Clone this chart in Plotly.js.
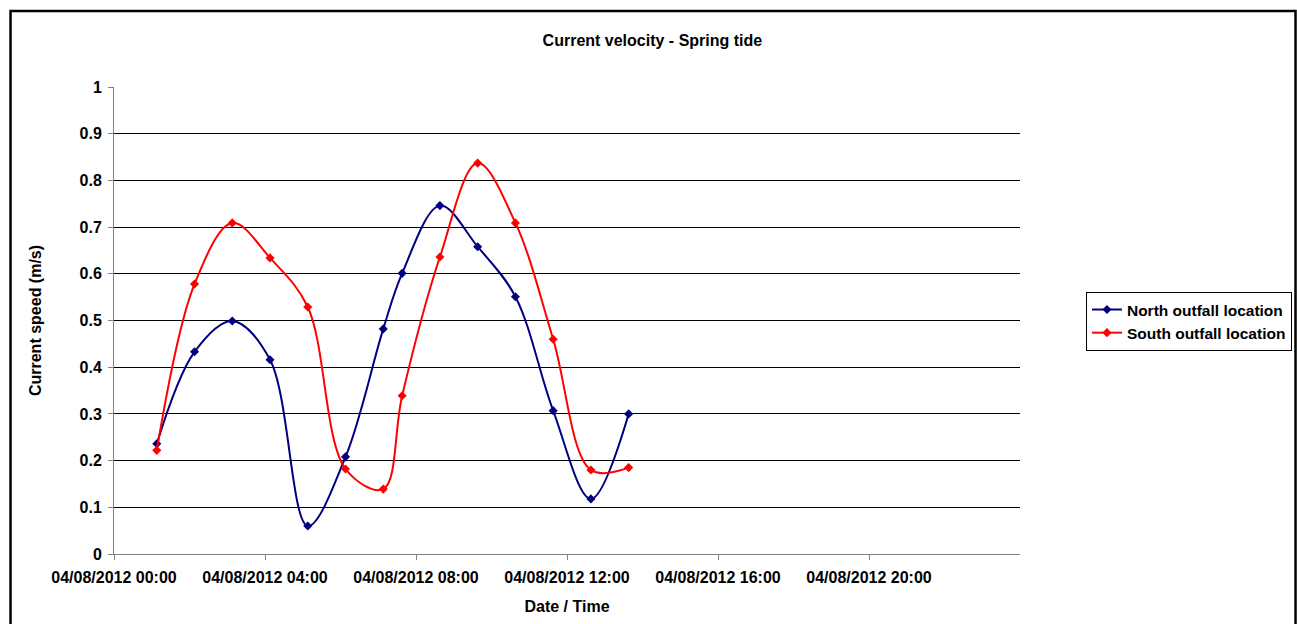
<!DOCTYPE html>
<html>
<head>
<meta charset="utf-8">
<script src="https://cdn.plot.ly/plotly-3.0.1.min.js"></script>
<style>
html,body{margin:0;padding:0;background:#fff;}
#chart{width:1297px;height:624px;}
</style>
</head>
<body>
<div id="chart"></div>
<script>
var times = [
  '2012-08-04 01:08','2012-08-04 02:08','2012-08-04 03:08','2012-08-04 04:08',
  '2012-08-04 05:08','2012-08-04 06:08','2012-08-04 07:08','2012-08-04 07:38',
  '2012-08-04 08:38','2012-08-04 09:38','2012-08-04 10:38','2012-08-04 11:38',
  '2012-08-04 12:38','2012-08-04 13:38'
];
var northSpeed = [0.236, 0.433, 0.499, 0.416, 0.060, 0.208, 0.482, 0.601, 0.746, 0.658, 0.551, 0.307, 0.118, 0.300];
var southSpeed = [0.222, 0.578, 0.709, 0.634, 0.529, 0.182, 0.139, 0.339, 0.636, 0.837, 0.709, 0.460, 0.180, 0.185];
var seriesNames = ['North outfall location', 'South outfall location'];
var xTickVals = ['2012-08-04 00:00','2012-08-04 04:00','2012-08-04 08:00','2012-08-04 12:00','2012-08-04 16:00','2012-08-04 20:00'];
var xTickText = ['04/08/2012 00:00','04/08/2012 04:00','04/08/2012 08:00','04/08/2012 12:00','04/08/2012 16:00','04/08/2012 20:00'];
var xRange = ['2012-08-04 00:00','2012-08-05 00:00'];

var FONT = 'Liberation Sans, Arial, sans-serif';
var F = {family: FONT, size: 16, color: '#000', weight: 'bold'};
var FL = {family: FONT, size: 15.5, color: '#000', weight: 'bold'};

var traces = [
  {x: times, y: northSpeed, name: seriesNames[0], type: 'scatter', mode: 'lines+markers',
   line: {color: '#000080', width: 2, shape: 'spline', smoothing: 1},
   marker: {symbol: 'diamond', size: 7, color: '#000080'}},
  {x: times, y: southSpeed, name: seriesNames[1], type: 'scatter', mode: 'lines+markers',
   line: {color: '#FF0000', width: 2, shape: 'spline', smoothing: 1},
   marker: {symbol: 'diamond', size: 7, color: '#FF0000'}}
];

var layout = {
  width: 1297, height: 624,
  paper_bgcolor: '#ffffff', plot_bgcolor: '#ffffff',
  margin: {l: 114, r: 277, t: 87, b: 70, pad: 0, autoexpand: false},
  font: F,
  title: {text: 'Current velocity - Spring tide', x: 0.503, xref: 'container', xanchor: 'center',
          y: 0.936, yref: 'container', yanchor: 'middle', font: F},
  xaxis: {type: 'date', range: xRange, tickmode: 'array', tickvals: xTickVals, ticktext: xTickText,
          showgrid: false, zeroline: false, showline: true, linecolor: '#808080', linewidth: 1,
          ticks: 'outside', ticklen: 5, tickcolor: '#808080', tickwidth: 1, ticklabelstandoff: 4,
          tickfont: F, automargin: false,
          title: {text: 'Date / Time', standoff: 15, font: F}},
  yaxis: {range: [0, 1], dtick: 0.1, tick0: 0, showgrid: true, gridcolor: '#000000', gridwidth: 1,
          zeroline: false, showline: true, linecolor: '#808080', linewidth: 1,
          ticks: 'outside', ticklen: 5, tickcolor: '#808080', tickwidth: 1, ticklabelstandoff: 3,
          tickfont: F, automargin: false,
          title: {text: 'Current speed (m/s)', standoff: 33, font: F}},
  showlegend: true,
  legend: {x: 1.0728, y: 0.498, xanchor: 'left', yanchor: 'middle', xref: 'paper', yref: 'paper',
           bgcolor: '#ffffff', bordercolor: '#000000', borderwidth: 1,
           font: FL, tracegroupgap: 0, itemwidth: 30},
  shapes: [
    {type: 'rect', xref: 'paper', yref: 'paper', x0: -0.1142, x1: 1.3041, y0: -0.17, y1: 1.1627,
     line: {color: '#000000', width: 2.5}, fillcolor: 'rgba(0,0,0,0)', layer: 'above'}
  ]
};

Plotly.newPlot('chart', traces, layout, {displayModeBar: false, staticPlot: true});
</script>
</body>
</html>
